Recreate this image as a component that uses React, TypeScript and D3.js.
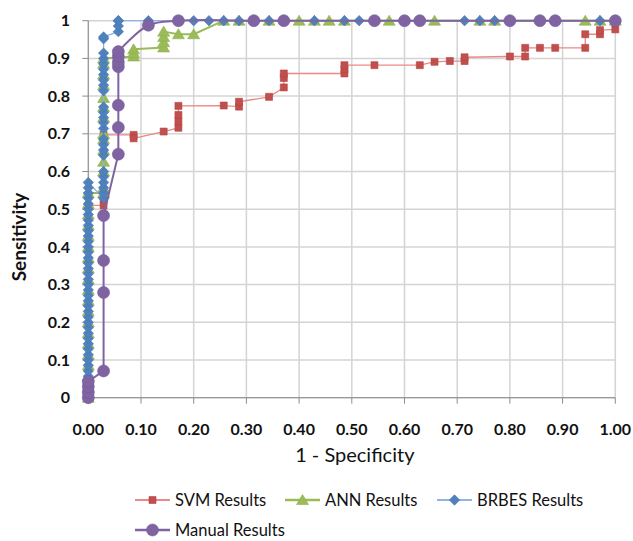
import React from "react";
import * as d3 from "d3";

// ---------- data ----------
const xTickValues = [0, 0.1, 0.2, 0.3, 0.4, 0.5, 0.6, 0.7, 0.8, 0.9, 1.0];
const yTickValues = [0, 0.1, 0.2, 0.3, 0.4, 0.5, 0.6, 0.7, 0.8, 0.9, 1.0];
const xTickLabels = ["0.00", "0.10", "0.20", "0.30", "0.40", "0.50", "0.60", "0.70", "0.80", "0.90", "1.00"];
const yTickLabels = ["0", "0.1", "0.2", "0.3", "0.4", "0.5", "0.6", "0.7", "0.8", "0.9", "1"];

const seriesNames = ["SVM Results", "ANN Results", "BRBES Results", "Manual Results"];

const svmFpr = [0, 0, 0.029, 0.029, 0.029, 0.029, 0.086, 0.086, 0.143, 0.171, 0.171, 0.171, 0.171, 0.257, 0.286, 0.286, 0.343, 0.371, 0.371, 0.371, 0.486, 0.486, 0.486, 0.543, 0.629, 0.657, 0.686, 0.714, 0.714, 0.8, 0.829, 0.829, 0.857, 0.886, 0.943, 0.943, 0.971, 0.971, 1.0];
const svmTpr = [0, 0.51, 0.51, 0.527, 0.543, 0.697, 0.697, 0.688, 0.706, 0.716, 0.733, 0.75, 0.774, 0.775, 0.772, 0.785, 0.798, 0.823, 0.848, 0.86, 0.86, 0.871, 0.882, 0.882, 0.882, 0.891, 0.893, 0.893, 0.903, 0.905, 0.905, 0.928, 0.928, 0.928, 0.928, 0.964, 0.964, 0.975, 0.977];

const annFpr = [0, 0, 0, 0, 0, 0, 0, 0, 0, 0, 0, 0, 0, 0, 0, 0, 0, 0, 0, 0,
  0.029, 0.029, 0.029, 0.029, 0.029, 0.029, 0.029, 0.029, 0.029, 0.029, 0.029, 0.029, 0.029, 0.029,
  0.086, 0.086, 0.086, 0.143, 0.143, 0.143, 0.143, 0.171, 0.2,
  0.257, 0.286, 0.343, 0.4, 0.429, 0.457, 0.486, 0.571, 0.657, 0.743, 0.771, 0.943, 0.971, 1.0];
const annTpr = [0, 0.029, 0.057, 0.086, 0.114, 0.143, 0.171, 0.2, 0.229, 0.257, 0.286, 0.314, 0.343, 0.371, 0.4, 0.429, 0.457, 0.486, 0.514, 0.543,
  0.543, 0.557, 0.6, 0.626, 0.657, 0.686, 0.7, 0.743, 0.771, 0.795, 0.829, 0.857, 0.886, 0.9,
  0.905, 0.914, 0.924, 0.929, 0.943, 0.957, 0.971, 0.964, 0.964,
  1, 1, 1, 1, 1, 1, 1, 1, 1, 1, 1, 1, 1, 1];

const brbesFpr = [0, 0, 0, 0, 0, 0, 0, 0, 0, 0, 0, 0, 0, 0, 0, 0, 0, 0, 0, 0, 0, 0, 0, 0, 0, 0, 0, 0, 0, 0, 0, 0, 0, 0, 0, 0, 0, 0, 0, 0, 0,
  0.029, 0.029, 0.029, 0.029, 0.029, 0.029, 0.029, 0.029, 0.029, 0.029, 0.029, 0.029, 0.029, 0.029, 0.029, 0.029, 0.029, 0.029, 0.029, 0.029, 0.029, 0.029, 0.029, 0.029, 0.029,
  0.057, 0.057, 0.057, 0.057,
  0.114, 0.2, 0.229, 0.257, 0.286, 0.343, 0.429, 0.486, 0.514, 0.714, 0.743, 0.771, 0.971, 1.0];
const brbesTpr = [0, 0.014, 0.029, 0.043, 0.057, 0.071, 0.086, 0.1, 0.114, 0.129, 0.143, 0.157, 0.171, 0.186, 0.2, 0.214, 0.229, 0.243, 0.257, 0.271, 0.286, 0.3, 0.314, 0.329, 0.343, 0.357, 0.371, 0.386, 0.4, 0.414, 0.429, 0.443, 0.457, 0.471, 0.486, 0.5, 0.514, 0.529, 0.543, 0.557, 0.571,
  0.529, 0.543, 0.557, 0.571, 0.586, 0.6, 0.643, 0.657, 0.671, 0.686, 0.714, 0.729, 0.743, 0.757, 0.771, 0.814, 0.829, 0.843, 0.857, 0.871, 0.886, 0.9, 0.914, 0.952,
  0.957, 0.971, 0.986, 1.0,
  1, 1, 1, 1, 1, 1, 1, 1, 1, 1, 1, 1, 1, 1];

const manualFpr = [0, 0, 0, 0, 0.029, 0.029, 0.029, 0.029, 0.057, 0.057, 0.057, 0.057, 0.057, 0.057, 0.057, 0.114, 0.171, 0.314, 0.371, 0.543, 0.6, 0.629, 0.8, 0.857, 0.886, 1.0];
const manualTpr = [0, 0.014, 0.029, 0.043, 0.071, 0.279, 0.364, 0.483, 0.646, 0.717, 0.776, 0.878, 0.89, 0.905, 0.918, 0.988, 1.0, 1, 1, 1, 1, 1, 1, 1, 1, 1];
// index in the Manual series from which the (smoothed) bend begins
const manualSmoothFrom = 14;

// ---------- layout & style ----------
const W = 633;
const H = 541;
const FONT = "Lato, 'Open Sans', 'DejaVu Sans', sans-serif";

const xScale = d3.scaleLinear().domain([0, 1]).range([88.3, 615.3]);
const yScale = d3.scaleLinear().domain([0, 1]).range([397.7, 20.7]);

type Shape = "square" | "triangle" | "diamond" | "circle";
const styles: { line: string; lw: number; fill: string; stroke: string; shape: Shape }[] = [
  { line: "#E88A88", lw: 1.3, fill: "#C0504D", stroke: "#B8423F", shape: "square" },
  { line: "#9BBB59", lw: 2, fill: "#9BBB59", stroke: "#8FB04C", shape: "triangle" },
  { line: "#8EB4E3", lw: 1.3, fill: "#4F81BD", stroke: "#4677B3", shape: "diamond" },
  { line: "#8064A2", lw: 2, fill: "#8064A2", stroke: "#7558A0", shape: "circle" },
];

function markerPath(shape: Shape, cx: number, cy: number): string {
  if (shape === "square") {
    const h = 3.5;
    return `M${cx - h},${cy - h}H${cx + h}V${cy + h}H${cx - h}Z`;
  }
  if (shape === "triangle") {
    return `M${cx},${cy - 5.5}L${cx + 6},${cy + 4.5}L${cx - 6},${cy + 4.5}Z`;
  }
  if (shape === "diamond") {
    const h = 5.2;
    return `M${cx},${cy - h}L${cx + h},${cy}L${cx},${cy + h}L${cx - h},${cy}Z`;
  }
  const r = 6;
  return `M${cx + r},${cy}A${r},${r} 0 1,1 ${cx - r},${cy}A${r},${r} 0 1,1 ${cx + r},${cy}Z`;
}

const allSeries = [
  { fpr: svmFpr, tpr: svmTpr },
  { fpr: annFpr, tpr: annTpr },
  { fpr: brbesFpr, tpr: brbesTpr },
  { fpr: manualFpr, tpr: manualTpr },
];

export default function App() {
  const [x0, x1] = xScale.range();
  const [y0, y1] = yScale.range();

  const legendItems = [
    { i: 0, lx: 135, ly: 500 },
    { i: 1, lx: 285, ly: 500 },
    { i: 2, lx: 437, ly: 500 },
    { i: 3, lx: 135, ly: 530 },
  ];

  const lin = d3.line();
  const smooth = d3.line().curve(d3.curveCatmullRom.alpha(0.5));

  return (
    <svg width={W} height={H} style={{ position: "absolute", left: 0, top: 0, background: "#fff" }} fontFamily={FONT}>
      <rect x={0} y={0} width={W} height={H} fill="#fff" />
      {/* gridlines */}
      {yTickValues.map((v) => (
        <line key={"gy" + v} x1={x0} x2={x1} y1={yScale(v)} y2={yScale(v)} stroke="#D4D4D4" strokeWidth={1.5} />
      ))}
      {xTickValues.map((v) => (
        <line key={"gx" + v} x1={xScale(v)} x2={xScale(v)} y1={y1} y2={y0} stroke="#D4D4D4" strokeWidth={1.5} />
      ))}
      {/* axes */}
      <line x1={x0} x2={x0} y1={y1} y2={y0} stroke="#8C8C8C" strokeWidth={1} />
      <line x1={x0} x2={x1} y1={y0} y2={y0} stroke="#8C8C8C" strokeWidth={1} />
      {yTickValues.map((v) => (
        <line key={"ty" + v} x1={x0 - 6} x2={x0} y1={yScale(v)} y2={yScale(v)} stroke="#8C8C8C" strokeWidth={1} />
      ))}
      {xTickValues.map((v) => (
        <line key={"tx" + v} x1={xScale(v)} x2={xScale(v)} y1={y0} y2={y0 + 6} stroke="#8C8C8C" strokeWidth={1} />
      ))}
      {/* tick labels */}
      {yTickValues.map((v, i) => (
        <text key={"ly" + v} x={70} y={yScale(v)} dy="0.35em" textAnchor="end" fontSize={16} fontWeight={700} fill="#111">
          {yTickLabels[i]}
        </text>
      ))}
      {xTickValues.map((v, i) => (
        <text key={"lx" + v} x={xScale(v)} y={429} dy="0.35em" textAnchor="middle" fontSize={16} fontWeight={700} fill="#111">
          {xTickLabels[i]}
        </text>
      ))}
      {/* axis titles */}
      <text x={(x0 + x1) / 2 + 3} y={455} dy="0.35em" textAnchor="middle" fontSize={20} fill="#111">
        1 - Specificity
      </text>
      <text transform={`translate(19,237) rotate(-90)`} dy="0.35em" textAnchor="middle" fontSize={19} fontWeight={700} fill="#111">
        Sensitivity
      </text>
      {/* series */}
      {allSeries.map((s, si) => {
        const st = styles[si];
        const pts: [number, number][] = s.fpr.map((f, k) => [xScale(f), yScale(s.tpr[k])]);
        const paths: string[] =
          si === 3
            ? [lin(pts.slice(0, manualSmoothFrom + 1)) || "", smooth(pts.slice(manualSmoothFrom)) || ""]
            : [lin(pts) || ""];
        return (
          <g key={"s" + si}>
            {paths.map((d, pi) => (
              <path key={"p" + pi} d={d} fill="none" stroke={st.line} strokeWidth={st.lw} strokeLinejoin="round" />
            ))}
            {pts.map((p, k) => (
              <path key={k} d={markerPath(st.shape, p[0], p[1])} fill={st.fill} stroke={st.stroke} strokeWidth={0.6} />
            ))}
          </g>
        );
      })}
      {/* legend */}
      {legendItems.map(({ i, lx, ly }) => {
        const st = styles[i];
        return (
          <g key={"lg" + i}>
            <line x1={lx} x2={lx + 35} y1={ly} y2={ly} stroke={st.line} strokeWidth={st.lw + 0.5} />
            <path d={markerPath(st.shape, lx + 17.5, ly)} fill={st.fill} stroke={st.stroke} strokeWidth={0.6} />
            <text x={lx + 40} y={ly} dy="0.35em" fontSize={16.5} fill="#111">
              {seriesNames[i]}
            </text>
          </g>
        );
      })}
    </svg>
  );
}
